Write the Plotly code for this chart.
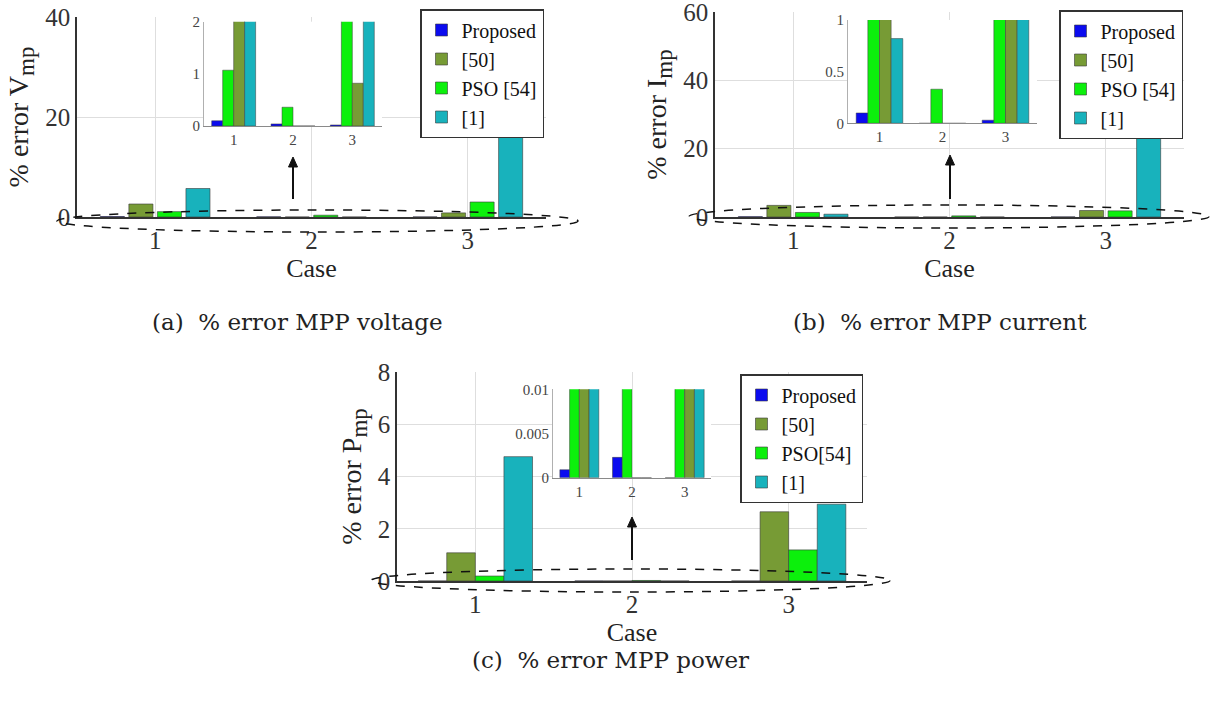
import plotly.graph_objects as go

W, H = 1210, 702

cases = [1, 2, 3]
tick_labels = ["1", "2", "3"]
names_ab = ["Proposed", "[50]", "PSO [54]", "[1]"]
names_c = ["Proposed", "[50]", "PSO[54]", "[1]"]

# (a) % error MPP voltage
vmp_proposed = [0.1, 0.04, 0.02]
vmp_ref50 = [2.6, 0.0, 0.82]
vmp_pso = [1.07, 0.36, 3.0]
vmp_ref1 = [5.7, 0.0, 18.5]

# (b) % error MPP current
imp_proposed = [0.1, 0.0, 0.03]
imp_ref50 = [3.4, 0.0, 1.9]
imp_pso = [1.33, 0.33, 1.8]
imp_ref1 = [0.82, 0.0, 26.5]

# (c) % error MPP power
pmp_proposed = [0.0009, 0.0023, 0.0]
pmp_ref50 = [1.08, 0.0, 2.65]
pmp_pso = [0.19, 0.02, 1.19]
pmp_ref1 = [4.76, 0.0, 2.94]

COLORS = ["#0b0bef", "#779b35", "#0cf00c", "#18b2bc"]
SERIF = "Liberation Serif"


def px(x):
    return x / W


def py(y):
    return 1 - y / H


def ytitle(sym):
    return f'% error {sym}<sub><span style="font-size:23px">mp</span></sub>'


panels = [
    dict(data=[vmp_proposed, vmp_ref50, vmp_pso, vmp_ref1], names=names_ab,
         main=(77, 546, 17, 217), yrange=[0, 40], yticks=[0, 20, 40],
         inset=(204, 382, 21.7, 126), irange=[0, 2], iticks=[0, 1, 2],
         ytitle=ytitle("V"), legend="legend", leg=(544, 9),
         ell=(57, 578, 210, 232), arrow=(293, 157, 199),
         caption="(a)  % error MPP voltage", cap=(297, 322), bw=0.154),
    dict(data=[imp_proposed, imp_ref50, imp_pso, imp_ref1], names=names_ab,
         main=(715, 1184, 12, 217), yrange=[0, 60], yticks=[0, 20, 40, 60],
         inset=(848, 1037, 20, 123.3), irange=[0, 1], iticks=[0, 0.5, 1],
         ytitle=ytitle("I"), legend="legend2", leg=(1183, 10),
         ell=(689, 1209, 205, 228), arrow=(950, 155, 199),
         caption="(b)  % error MPP current", cap=(940, 322), bw=0.154),
    dict(data=[pmp_proposed, pmp_ref50, pmp_pso, pmp_ref1], names=names_c,
         main=(397, 867, 372, 581), yrange=[0, 8], yticks=[0, 2, 4, 6, 8],
         inset=(553, 711, 389.3, 477.7), irange=[0, 0.01], iticks=[0, 0.005, 0.01],
         ytitle=ytitle("P"), legend="legend3", leg=(863, 374),
         ell=(371, 890, 569, 592), arrow=(632, 517, 560),
         caption="(c)  % error MPP power", cap=(610, 660), bw=0.1825),
]

fig = go.Figure()
layout = dict(
    template="none",
    width=W, height=H, autosize=False,
    margin=dict(l=0, r=0, t=0, b=0, pad=0),
    paper_bgcolor="white", plot_bgcolor="white",
    font=dict(family=SERIF, color="#222222"),
    barmode="overlay", showlegend=True,
    shapes=[], annotations=[],
)

GROUP_MAIN = 0.73
GROUP_INSET = 0.74
inset_order = [0, 2, 1, 3]

for p_i, p in enumerate(panels):
    mi = 2 * p_i + 1
    ii = 2 * p_i + 2
    mx = "x" if mi == 1 else f"x{mi}"
    my = "y" if mi == 1 else f"y{mi}"
    ix, iy = f"x{ii}", f"y{ii}"
    mxk = "xaxis" if mi == 1 else f"xaxis{mi}"
    myk = "yaxis" if mi == 1 else f"yaxis{mi}"

    slot = GROUP_MAIN / 4
    for k in range(4):
        off = -GROUP_MAIN / 2 + k * slot + (slot - p["bw"]) / 2
        fig.add_trace(go.Bar(
            x=cases, y=p["data"][k], name=p["names"][k],
            xaxis=mx, yaxis=my, width=p["bw"], offset=off,
            marker=dict(color=COLORS[k], line=dict(color="#3a3a3a", width=0.6)),
            legend=p["legend"], showlegend=True,
        ))
    slot_i = GROUP_INSET / 4
    for pos, k in enumerate(inset_order):
        off = -GROUP_INSET / 2 + pos * slot_i
        fig.add_trace(go.Bar(
            x=cases, y=p["data"][k], name=p["names"][k],
            xaxis=ix, yaxis=iy, width=slot_i, offset=off,
            marker=dict(color=COLORS[k], line=dict(color="#3a3a3a", width=0.5)),
            showlegend=False,
        ))

    x0, x1, y0, y1 = p["main"]
    layout[mxk] = dict(
        domain=[px(x0), px(x1)], anchor=my, range=[0.5, 3.5], automargin=False,
        tickvals=cases, ticktext=tick_labels, ticklabeloverflow="allow",
        showgrid=True, gridcolor="#dedede", gridwidth=1,
        showline=True, linecolor="#333333", linewidth=1.5, ticks="",
        zeroline=False,
        tickfont=dict(family=SERIF, size=25, color="#333333"),
        title=dict(text="Case", font=dict(family=SERIF, size=26, color="#222222"), standoff=4),
    )
    layout[myk] = dict(
        domain=[py(y1), py(y0)], anchor=mx, range=p["yrange"], tickvals=p["yticks"],
        automargin=False, ticklabeloverflow="allow",
        showgrid=True, gridcolor="#dedede", gridwidth=1,
        showline=True, linecolor="#333333", linewidth=1.5, ticks="",
        zeroline=False,
        tickfont=dict(family=SERIF, size=25, color="#333333"),
        title=dict(text=p["ytitle"], font=dict(family=SERIF, size=28, color="#222222"), standoff=8),
    )
    a0, a1, b0, b1 = p["inset"]
    layout[f"xaxis{ii}"] = dict(
        domain=[px(a0), px(a1)], anchor=iy, range=[0.5, 3.5], automargin=False,
        tickvals=cases, ticktext=tick_labels, showgrid=False, ticklabeloverflow="allow",
        showline=True, linecolor="#8a8a8a", linewidth=1, ticks="", zeroline=False,
        tickfont=dict(family=SERIF, size=15, color="#444444"),
    )
    layout[f"yaxis{ii}"] = dict(
        domain=[py(b1), py(b0)], anchor=ix, range=p["irange"], tickvals=p["iticks"],
        automargin=False, ticklabeloverflow="allow",
        showgrid=False, showline=True, linecolor="#b0b0b0", linewidth=1, ticks="",
        zeroline=False,
        tickfont=dict(family=SERIF, size=15, color="#444444"),
    )

    lx, ly = p["leg"]
    layout[p["legend"]] = dict(
        x=px(lx), xanchor="right", y=py(ly), yanchor="top",
        bgcolor="white", bordercolor="#333333", borderwidth=1.5,
        font=dict(family=SERIF, size=20, color="#111111"),
        tracegroupgap=0, itemwidth=30,
    )

    e0, e1, f0, f1 = p["ell"]
    layout["shapes"].append(dict(
        type="circle", xref="paper", yref="paper",
        x0=px(e0), x1=px(e1), y0=py(f1), y1=py(f0),
        line=dict(color="#111111", width=1.5, dash="dash"), layer="above",
    ))
    ax_, ahead, atail = p["arrow"]
    layout["shapes"].append(dict(
        type="line", xref="paper", yref="paper",
        x0=px(ax_), x1=px(ax_), y0=py(atail), y1=py(ahead + 8),
        line=dict(color="#111111", width=2), layer="above",
    ))
    layout["shapes"].append(dict(
        type="path", xref="paper", yref="paper",
        path=(f"M {px(ax_ - 4.5)} {py(ahead + 10)} L {px(ax_ + 4.5)} {py(ahead + 10)} "
              f"L {px(ax_)} {py(ahead)} Z"),
        fillcolor="#111111", line=dict(color="#111111", width=1), layer="above",
    ))
    cx, cy = p["cap"]
    layout["annotations"].append(dict(
        x=px(cx), y=py(cy), xref="paper", yref="paper", text=p["caption"],
        showarrow=False, xanchor="center", yanchor="middle",
        font=dict(family="DejaVu Serif", size=23, color="#222222"),
    ))

fig.update_layout(**layout)
fig.write_html("out.html")
